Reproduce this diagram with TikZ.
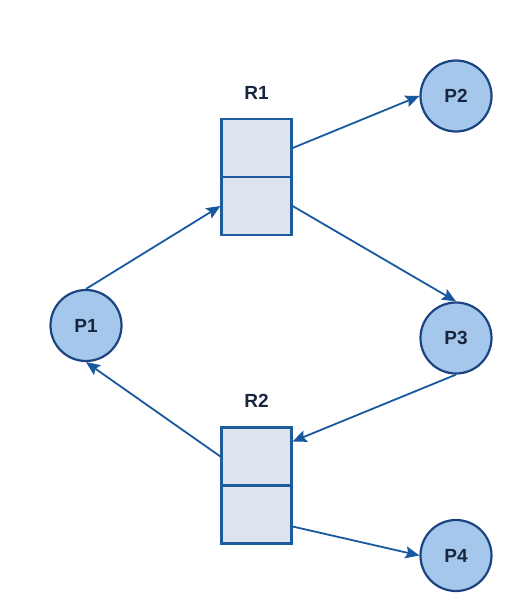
\documentclass[tikz,border=0pt]{standalone}
\usepackage{fontspec}
\setmainfont{Liberation Sans}
\usetikzlibrary{arrows.meta}
\definecolor{procfill}{RGB}{164,199,235}
\definecolor{procline}{RGB}{28,68,130}
\definecolor{resfill}{RGB}{221,228,240}
\definecolor{resline}{RGB}{30,92,158}
\definecolor{edgeblue}{RGB}{24,88,158}
\definecolor{labelnavy}{RGB}{24,38,64}
\tikzset{
  proc/.style={circle, draw=procline, fill=procfill, line width=2.2pt, minimum size=71pt, inner sep=0pt,
    text=labelnavy, font=\fontsize{19}{22}\selectfont\bfseries},
  slot/.style={rectangle, draw=resline, fill=resfill, line width=2.2pt, minimum width=70pt, minimum height=58pt, inner sep=0pt},
  reslabel/.style={text=labelnavy, font=\fontsize{19}{22}\selectfont\bfseries},
  edge/.style={draw=edgeblue, line width=1.8pt, -{Stealth[length=14pt,width=12pt,inset=2.5pt]}}
}

\begin{document}
\begin{tikzpicture}[x=1pt,y=-1pt]
\useasboundingbox (0,0) rectangle (512,611);

\foreach \name/\x/\y in {P1/86/325.5, P2/456/96, P3/456/338, P4/456/555.5}
\node[proc] (\name) at (\x,\y) {\name};

\node[slot] (R1a) at (256.5,148) {};
\node[slot] (R1b) at (256.5,206) {};
\node[reslabel] (R1) at (256.5,93) {R1};
\node[slot] (R2a) at (256.5,456.5) {};
\node[slot] (R2b) at (256.5,514.5) {};
\node[reslabel] (R2) at (256.5,401) {R2};

\draw[edge] (P1.north) -- (R1b.west);
\draw[edge] (R1a.east) -- (P2.west);
\draw[edge] (R1b.east) -- (P3.north);
\draw[edge] (P3.south) -- ([yshift=15pt]R2a.east);
\draw[edge] (R2a.west) -- (P1.south);
\draw[edge] ([yshift=-12pt]R2b.east) -- (P4.west);
\end{tikzpicture}
\end{document}
